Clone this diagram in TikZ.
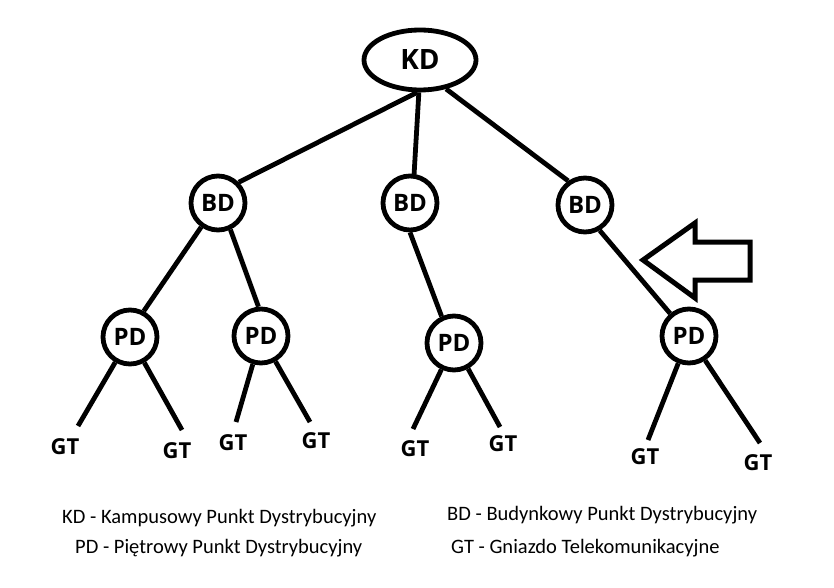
\documentclass[tikz,border=0pt]{standalone}
\usepackage{fontspec}
\setmainfont{Carlito}
\newfontfamily\nodefont{Open Sans}
\usetikzlibrary{shapes.geometric}
\begin{document}
\begin{tikzpicture}[x=1pt,y=-1pt,
  conn/.style={line width=4.8pt},
  ring/.style={circle,draw,line width=4.8pt,minimum size=54pt,inner sep=0pt,
    font=\nodefont\bfseries\fontsize{24}{24}\selectfont},
  oval/.style={ellipse,draw,line width=4.8pt,minimum width=112pt,minimum height=60pt,inner sep=0pt,
    font=\nodefont\bfseries\fontsize{28}{28}\selectfont},
  gtlabel/.style={inner sep=0pt,font=\nodefont\bfseries\fontsize{22}{22}\selectfont},
  legend/.style={anchor=west,inner sep=0pt,font=\fontsize{20.5}{20.5}\selectfont},
  bigarrow/.style={draw,line width=5pt,line join=miter,fill=white}]
\fill[white] (0,0) rectangle (834,588);
\useasboundingbox (0,0) rectangle (834,588);

% nodes
\node[oval] (KD) at (420,60) {KD};
\node[ring] (BD1) at (218,203) {BD};
\node[ring] (BD2) at (410,203) {BD};
\node[ring] (BD3) at (585,205) {BD};
\node[ring] (PD1) at (130,337) {PD};
\node[ring] (PD2) at (261,336) {PD};
\node[ring] (PD3) at (454,343) {PD};
\node[ring] (PD4) at (689,336) {PD};

% GT labels
\node[gtlabel] (G1) at (65,447) {GT};
\node[gtlabel] (G2) at (177,451) {GT};
\node[gtlabel] (G3) at (233,443) {GT};
\node[gtlabel] (G4) at (316,441) {GT};
\node[gtlabel] (G5) at (415,449) {GT};
\node[gtlabel] (G6) at (503,444) {GT};
\node[gtlabel] (G7) at (645,457) {GT};
\node[gtlabel] (G8) at (758,463) {GT};

% free ends of the leaf lines
\coordinate (e1) at (78,426);
\coordinate (e2) at (182,430);
\coordinate (e3) at (236,422);
\coordinate (e4) at (310,422);
\coordinate (e5) at (413,429);
\coordinate (e6) at (500,427);
\coordinate (e7) at (648,440);
\coordinate (e8) at (760,443);

% connectors
\draw[conn] (KD.-95) -- (BD1.45);
\draw[conn] (KD.-92) -- (BD2.82);
\draw[conn] (KD.-48) -- (BD3.125);
\draw[conn] (BD1.-125) -- (PD1.62);
\draw[conn] (BD1.-65) -- (PD2.95);
\draw[conn] (BD2.-90) -- (PD3.115);
\draw[conn] (BD3.-60) -- (PD4.130);
\draw[conn] (PD1) -- (e1);
\draw[conn] (PD1) -- (e2);
\draw[conn] (PD2) -- (e3);
\draw[conn] (PD2) -- (e4);
\draw[conn] (PD3) -- (e5);
\draw[conn] (PD3) -- (e6);
\draw[conn] (PD4) -- (e7);
\draw[conn] (PD4) -- (e8);

% hollow arrow
\draw[bigarrow] (643,260) -- (695,223) -- (695,242) -- (750,242) -- (750,280) -- (695,280) -- (695,298) -- cycle;

% legend
\node[legend] (L1) at (62,518) {KD - Kampusowy Punkt Dystrybucyjny};
\node[legend] (L2) at (447,515) {BD - Budynkowy Punkt Dystrybucyjny};
\node[legend] (L3) at (75,548) {PD - Piętrowy Punkt Dystrybucyjny};
\node[legend] (L4) at (451,548) {GT - Gniazdo Telekomunikacyjne};
\end{tikzpicture}
\end{document}
